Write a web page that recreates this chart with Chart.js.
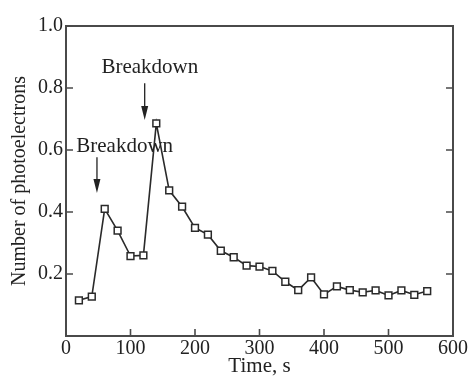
<!DOCTYPE html>
<html>
<head>
<meta charset="utf-8">
<script src="https://cdn.jsdelivr.net/npm/chart.js@4.4.0/dist/chart.umd.min.js"></script>
<style>
  html, body { margin: 0; padding: 0; background: #fff; }
  #wrap { width: 469px; height: 379px; }
</style>
</head>
<body>
<div id="wrap"><canvas id="photoChart" width="469" height="379"></canvas></div>
<script>
// time samples (s) and measured photoelectron counts
const times = [20, 40, 60, 80, 100, 120, 140, 160, 180, 200, 220, 240, 260, 280,
  300, 320, 340, 360, 380, 400, 420, 440, 460, 480, 500, 520, 540, 560];
const photoelectrons = [0.115, 0.127, 0.410, 0.340, 0.258, 0.260, 0.686, 0.470, 0.417, 0.349,
  0.327, 0.275, 0.254, 0.227, 0.224, 0.210, 0.175, 0.148, 0.189, 0.134,
  0.160, 0.148, 0.141, 0.147, 0.131, 0.147, 0.133, 0.145];
const xTicks = [0, 100, 200, 300, 400, 500, 600];
const yTicks = [0.2, 0.4, 0.6, 0.8, 1.0];
const noteLabels = ['Breakdown', 'Breakdown'];

const serif = 'Liberation Serif, Times New Roman, serif';
const ink = '#222';
const frameColor = '#4a4a4a';

// box around the plot with inward tick marks
const framePlugin = {
  id: 'frame',
  afterDatasetsDraw(chart) {
    const { ctx, chartArea: a, scales } = chart;
    ctx.save();
    ctx.strokeStyle = frameColor;
    ctx.lineWidth = 2;
    ctx.strokeRect(a.left, a.top, a.right - a.left, a.bottom - a.top);
    ctx.lineWidth = 1.6;
    ctx.beginPath();
    xTicks.forEach(v => {
      const px = scales.x.getPixelForValue(v);
      ctx.moveTo(px, a.bottom);
      ctx.lineTo(px, a.bottom - 7);
    });
    yTicks.forEach(v => {
      const py = scales.y.getPixelForValue(v);
      ctx.moveTo(a.left, py);
      ctx.lineTo(a.left + 7, py);
      ctx.moveTo(a.right, py);
      ctx.lineTo(a.right - 7, py);
    });
    ctx.stroke();
    ctx.restore();
  }
};

// "Breakdown" labels with downward arrows
const notesPlugin = {
  id: 'notes',
  afterDraw(chart) {
    const { ctx, scales } = chart;
    const spots = [
      { tx: 130, ty: 0.848, ax: 122, from: 0.815, to: 0.697 },
      { tx: 91, ty: 0.594, ax: 48, from: 0.577, to: 0.461 }
    ];
    ctx.save();
    ctx.fillStyle = ink;
    ctx.strokeStyle = ink;
    ctx.font = '21px ' + serif;
    ctx.textAlign = 'center';
    ctx.textBaseline = 'alphabetic';
    spots.forEach((s, i) => {
      ctx.fillText(noteLabels[i], scales.x.getPixelForValue(s.tx), scales.y.getPixelForValue(s.ty));
      const x = scales.x.getPixelForValue(s.ax);
      const y0 = scales.y.getPixelForValue(s.from);
      const y1 = scales.y.getPixelForValue(s.to);
      ctx.lineWidth = 1.3;
      ctx.beginPath();
      ctx.moveTo(x, y0);
      ctx.lineTo(x, y1 - 10);
      ctx.stroke();
      ctx.beginPath();
      ctx.moveTo(x - 3.5, y1 - 14);
      ctx.lineTo(x + 3.5, y1 - 14);
      ctx.lineTo(x, y1);
      ctx.closePath();
      ctx.fill();
    });
    ctx.restore();
  }
};

new Chart(document.getElementById('photoChart'), {
  type: 'line',
  data: {
    datasets: [{
      data: times.map((t, i) => ({ x: t, y: photoelectrons[i] })),
      borderColor: '#2a2a2a',
      borderWidth: 1.6,
      pointStyle: 'rect',
      pointRadius: 4.8,
      pointBorderWidth: 1.5,
      pointBackgroundColor: '#fff',
      pointBorderColor: '#2a2a2a',
      tension: 0
    }]
  },
  options: {
    responsive: false,
    animation: false,
    devicePixelRatio: 1,
    layout: { padding: { top: 26, right: 15, bottom: 0, left: 0 } },
    plugins: { legend: { display: false }, tooltip: { enabled: false } },
    scales: {
      x: {
        type: 'linear',
        min: 0,
        max: 600,
        afterBuildTicks: s => { s.ticks = xTicks.map(v => ({ value: v })); },
        ticks: { color: ink, font: { family: serif, size: 20 }, padding: 1, maxRotation: 0, autoSkip: false },
        grid: { display: false, drawTicks: false },
        border: { display: false },
        title: { display: true, text: 'Time, s', color: ink, font: { family: serif, size: 21, lineHeight: 1.2 }, padding: 0 },
        afterFit: s => { s.height = 43; }
      },
      y: {
        min: 0,
        max: 1,
        afterBuildTicks: s => { s.ticks = yTicks.map(v => ({ value: v })); },
        ticks: { color: ink, font: { family: serif, size: 20 }, padding: 3, callback: v => v.toFixed(1) },
        grid: { display: false, drawTicks: false },
        border: { display: false },
        title: { display: true, text: 'Number of photoelectrons', color: ink, font: { family: serif, size: 20, lineHeight: 1.2 }, padding: { top: 8, bottom: 0 } },
        afterFit: s => { s.width = 66; }
      }
    }
  },
  plugins: [framePlugin, notesPlugin]
});
</script>
</body>
</html>
